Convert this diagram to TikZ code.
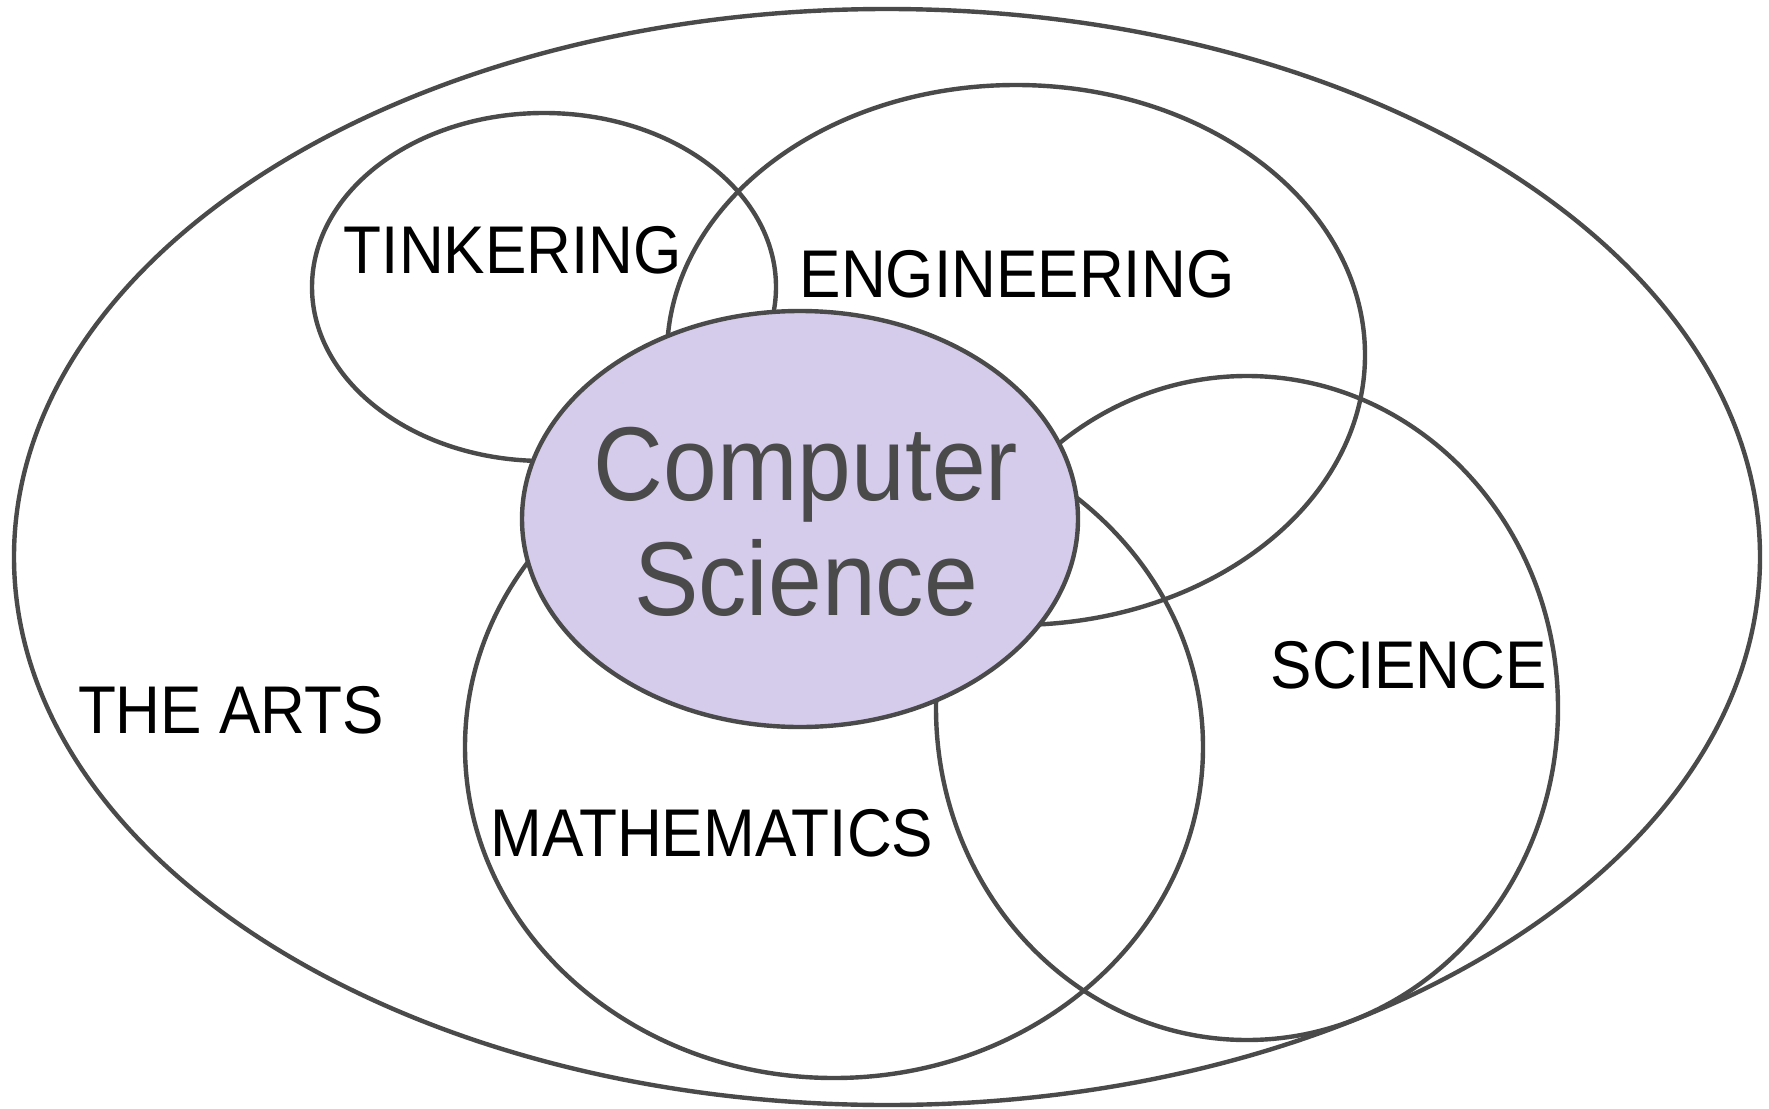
\documentclass[tikz,border=0pt]{standalone}
\usepackage{fontspec}
\setmainfont{Liberation Sans}[FakeStretch=0.92]
\usetikzlibrary{shapes.geometric}
\definecolor{edge}{HTML}{4A4A4A}
\definecolor{csfill}{HTML}{D5CCEB}
\tikzset{
  setshape/.style={ellipse, draw=edge, line width=4.4pt, inner sep=0pt},
  lab/.style={font=\fontsize{67.5}{80}\selectfont, text=black, inner sep=0pt},
  cslab/.style={font=\fontsize{105}{115}\selectfont, text=edge, inner sep=0pt, align=center}
}
\begin{document}
\begin{tikzpicture}[x=1pt,y=-1pt]
\useasboundingbox (0,0) rectangle (1769,1108);
\fill[white] (0,0) rectangle (1769,1108);
\node[setshape, minimum width=1746pt, minimum height=1096pt] (arts) at (887,557) {};
\node[setshape, minimum width=464pt, minimum height=348pt] (tink) at (544,287) {};
\node[setshape, minimum width=698pt, minimum height=540pt] (eng) at (1016,355) {};
\node[setshape, minimum width=622pt, minimum height=664pt] (sci) at (1247,708) {};
\node[setshape, minimum width=738pt, minimum height=662pt] (math) at (834,747) {};
\node[setshape, fill=csfill, minimum width=556pt, minimum height=416pt] (cs) at (800,519) {};
\node[cslab] (cstext) at (806,522) {Computer\\Science};
\node[lab] (tinktext) at (513,250) {TINKERING};
\node[lab] (engtext) at (1017,274) {ENGINEERING};
\node[lab] (scitext) at (1409,665) {SCIENCE};
\node[lab] (artstext) at (231,710) {THE ARTS};
\node[lab] (mathtext) at (712,833) {MATHEMATICS};
\end{tikzpicture}
\end{document}
